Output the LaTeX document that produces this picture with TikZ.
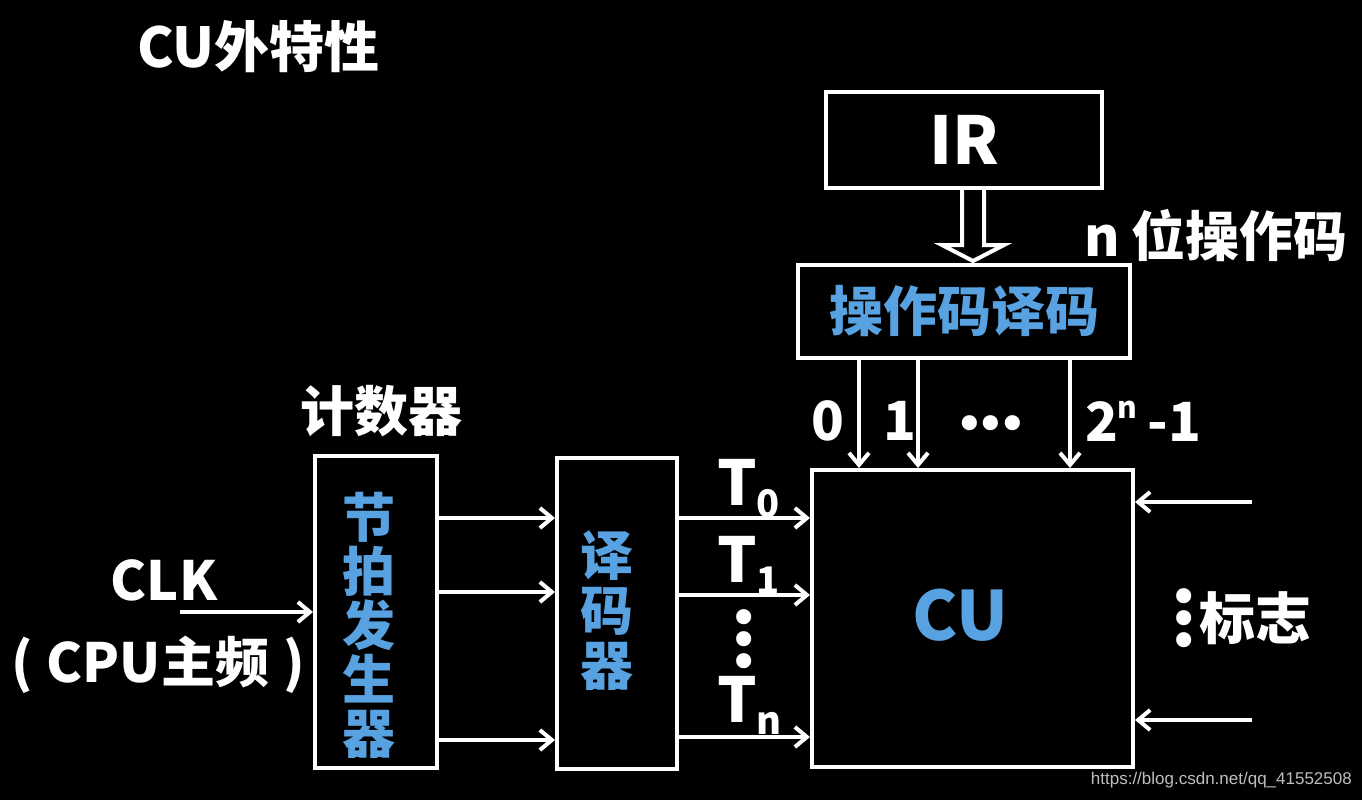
\documentclass[tikz,border=0pt]{standalone}
\usepackage{fontspec}
\setmainfont{Noto Sans CJK SC}
\newfontfamily\djv{DejaVu Sans}
\newfontfamily\wmfont{Liberation Sans}
\usetikzlibrary{arrows.meta,calc}
\definecolor{cublue}{RGB}{88,162,226}
\definecolor{wmgray}{RGB}{190,190,190}
\newcommand{\fsz}[1]{\fontsize{#1}{#1}\selectfont}
\newcommand{\threedots}{{\djv\fsz{52}•\hspace{-9pt}•\hspace{-9pt}•}}
\tikzset{
  box/.style={draw=white, line width=4pt, fill=black, inner sep=0pt},
  arr/.style={draw=white, line width=4pt, -{Straight Barb[length=12pt,width=20pt]}},
  wtxt/.style={text=white, font=\bfseries, inner sep=0pt},
  btxt/.style={text=cublue, font=\bfseries, inner sep=0pt},
  dotsh/.style={text=white, inner sep=0pt},
  dotsv/.style={text=white, inner sep=0pt, rotate=90},
}
\begin{document}
\begin{tikzpicture}[x=1pt,y=-1pt]
\fill[black] (0,0) rectangle (1362,800);
\useasboundingbox (0,0) rectangle (1362,800);

% title
\node[wtxt, anchor=west] (title) at (137,47) {\fsz{55}CU外特性};

% boxes
\node[box, minimum width=276pt, minimum height=96pt] (ir) at (964,140) {};
\node[wtxt] (irt) at (ir.center) {\fsz{66}IR};
\node[box, minimum width=332pt, minimum height=93pt] (opdec) at (964,311.5) {};
\node[btxt] (opdect) at (opdec.center) {\fsz{54}操作码译码};
\node[box, minimum width=321pt, minimum height=297pt] (cu) at (972.5,618.5) {};
\node[btxt] (cut) at (960,615) {\fsz{68}CU};
\node[box, minimum width=122pt, minimum height=312pt] (beat) at (376,612) {};
\node[btxt, align=center, font=\bfseries\fontsize{53}{54}\selectfont] (beatt) at (369,625) {节\\拍\\发\\生\\器};
\node[box, minimum width=120pt, minimum height=311pt] (dec) at (617,613) {};
\node[btxt, align=center, font=\bfseries\fontsize{53}{55}\selectfont] (dect) at (607,611) {译\\码\\器};

% hollow arrow IR -> opcode decoder
\coordinate (hs) at (973,188);
\draw[white, line width=4pt, line join=miter, fill=black]
  ($(ir.south -| hs)+(-11,0)$) -- ($(ir.south -| hs)+(-11,55)$) -- ($(ir.south -| hs)+(-31,55)$)
  -- ($(opdec.north -| hs)+(0,-2)$)
  -- ($(ir.south -| hs)+(31,55)$) -- ($(ir.south -| hs)+(11,55)$) -- ($(ir.south -| hs)+(11,0)$);
\node[wtxt] (nbit) at (1216,236) {\fsz{54}n 位操作码};

% decoder outputs to CU
\coordinate (d0) at (859,0);
\coordinate (d1) at (918,0);
\coordinate (d2) at (1070,0);
\draw[arr] (opdec.south -| d0) -- (cu.north -| d0);
\draw[arr] (opdec.south -| d1) -- (cu.north -| d1);
\draw[arr] (opdec.south -| d2) -- (cu.north -| d2);
\node[wtxt] (l0) at (828,421) {\fsz{54}0};
\node[wtxt] (l1) at (900,421) {\fsz{54}1};
\node[dotsh] (ldots) at (991,429) {\threedots};
\node[wtxt] (l2n) at (1143,421) {\fsz{54}2\raisebox{0.42em}{\fsz{30}n}\hspace{0.18em}-1};

% counter label
\node[wtxt] (cnt) at (381,411) {\fsz{54}计数器};

% beat -> decoder arrows
\coordinate (a1) at (0,518);
\coordinate (a2) at (0,592);
\coordinate (a3) at (0,740);
\draw[arr] (beat.east |- a1) -- (dec.west |- a1);
\draw[arr] (beat.east |- a2) -- (dec.west |- a2);
\draw[arr] (beat.east |- a3) -- (dec.west |- a3);

% decoder -> CU arrows
\coordinate (b1) at (0,518);
\coordinate (b2) at (0,595);
\coordinate (b3) at (0,737);
\draw[arr] (dec.east |- b1) -- (cu.west |- b1);
\draw[arr] (dec.east |- b2) -- (cu.west |- b2);
\draw[arr] (dec.east |- b3) -- (cu.west |- b3);
\node[wtxt, anchor=base west] (t0) at (717,505) {\fsz{62}T\raisebox{-0.2em}{\fsz{38}0}};
\node[wtxt, anchor=base west] (t1) at (717,582) {\fsz{62}T\raisebox{-0.2em}{\fsz{38}1}};
\node[dotsv] (tdots) at (750,639) {\threedots};
\node[wtxt, anchor=base west] (tn) at (717,722) {\fsz{62}T\raisebox{-0.2em}{\fsz{38}n}};

% flags
\coordinate (f1) at (1252,502);
\coordinate (f2) at (1252,720);
\draw[arr] (f1) -- (cu.east |- f1);
\draw[arr] (f2) -- (cu.east |- f2);
\node[dotsv] (fdots) at (1190,618) {\threedots};
\node[wtxt, anchor=west] (flag) at (1199,618) {\fsz{56}标志};

% clock
\node[wtxt] (clk) at (164,580) {\fsz{54}CLK};
\coordinate (c0) at (180,612);
\draw[arr] (c0) -- (beat.west |- c0);
\node[wtxt] (cpu) at (158,665) {\fsz{54}(\hspace{14pt}CPU主频\hspace{14pt})};

% watermark
\node[text=wmgray, inner sep=0pt, anchor=east] (wm) at (1352,780) {\wmfont\fsz{17}https://blog.csdn.net/qq\_41552508};
\end{tikzpicture}
\end{document}
